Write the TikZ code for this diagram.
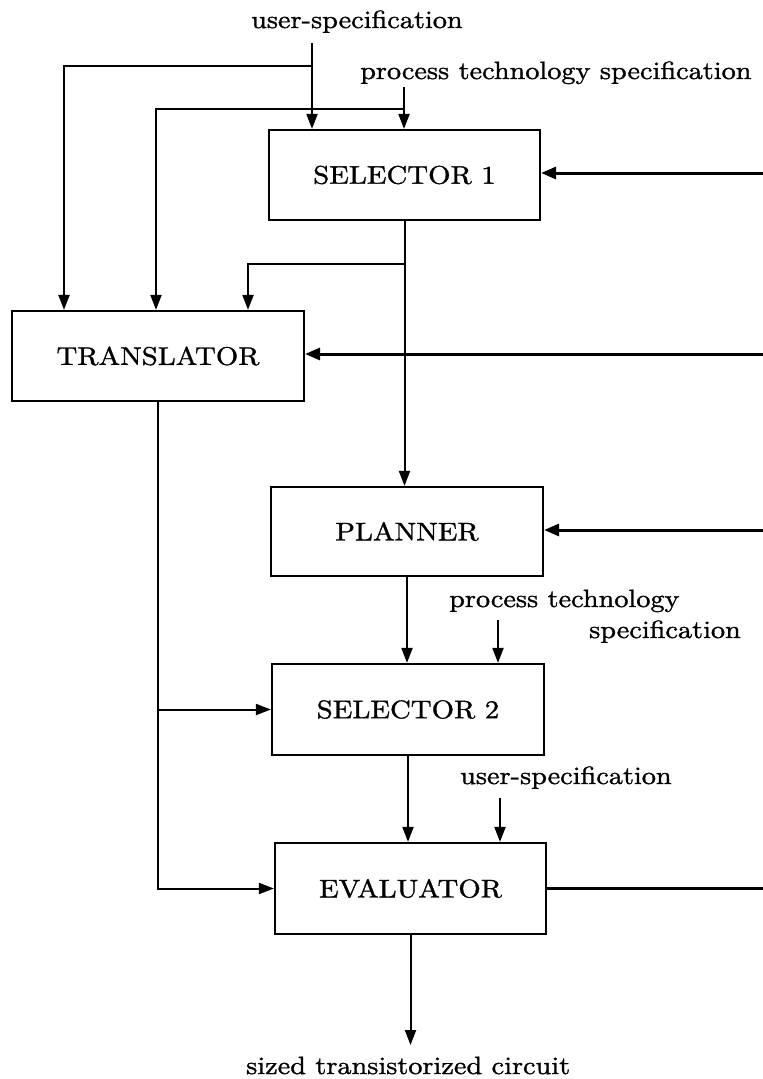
\documentclass[tikz,border=0pt]{standalone}
\usepackage{fontspec}
\setmainfont{lmroman10-regular.otf}[FakeStretch=1.13, FakeBold=1.2]
\usetikzlibrary{arrows.meta}
\tikzset{
  blk/.style={draw, line width=2.2pt, inner sep=0pt, font=\fontsize{25.5}{30}\selectfont},
  lbl/.style={inner sep=0pt, anchor=base west, font=\fontsize{25}{30}\selectfont},
  wire/.style={line width=2pt},
  con/.style={line width=2pt, -{Triangle[length=15pt,width=11pt]}},
  fbcon/.style={line width=3pt, -{Triangle[length=15pt,width=12pt]}},
  fb/.style={line width=3pt}
}
\begin{document}
\begin{tikzpicture}[x=1pt,y=-1pt]
\useasboundingbox[fill=white] (0,0) rectangle (763,1079);

% boxes
\node[blk, minimum width=271pt, minimum height=90pt] (S1) at (404.5,175) {SELECTOR 1};
\node[blk, minimum width=292pt, minimum height=90pt] (TR) at (158,356) {TRANSLATOR};
\node[blk, minimum width=272pt, minimum height=89pt] (PL) at (407,531.5) {PLANNER};
\node[blk, minimum width=272pt, minimum height=91pt] (S2) at (408,709.5) {SELECTOR 2};
\node[blk, minimum width=271pt, minimum height=91pt] (EV) at (410.5,888.5) {EVALUATOR};

% labels
\node[lbl] (Lu1) at (251,28) {user-specification};
\node[lbl] (Lp1) at (360,79) {process technology specification};
\node[lbl] (Lp2a) at (449,607) {process technology};
\node[lbl] (Lp2b) at (589,638) {specification};
\node[lbl] (Lu2) at (460,784) {user-specification};
\node[lbl] (Lout) at (246,1074) {sized transistorized circuit};

% top inputs
\coordinate (u1) at (312,43);
\coordinate (u1b) at (312,66);
\coordinate (j1) at (64,66);
\draw[con] (u1) -- (u1 |- S1.north);
\draw[con] (u1b) -- (j1) -- (j1 |- TR.north);

\coordinate (p1) at (404,87);
\coordinate (p1b) at (404,109);
\coordinate (j2) at (156,109);
\draw[con] (p1) -- (p1 |- S1.north);
\draw[con] (p1b) -- (j2) -- (j2 |- TR.north);

% selector 1 output
\coordinate (b1) at (S1.south |- 0,264);
\coordinate (j3) at (248,264);
\draw[con] (S1.south) -- (S1.south |- PL.north);
\draw[con] (b1) -- (j3) -- (j3 |- TR.north);

% feedback from the right
\coordinate (r1) at (763,173);
\coordinate (r2) at (763,354);
\coordinate (r3) at (763,530);
\coordinate (r4) at (763,888.5);
\draw[fbcon] (r1) -- (r1 -| S1.east);
\draw[fbcon] (r2) -- (r2 -| TR.east);
\draw[fbcon] (r3) -- (r3 -| PL.east);
\draw[fb] (EV.east) -- (r4);

% planner to selector 2
\draw[con] (PL.south) -- (PL.south |- S2.north);
\coordinate (p2) at (498,620);
\draw[con] (p2) -- (p2 |- S2.north);

% translator output
\draw[con] (TR.south) -- (TR.south |- EV.west) -- (EV.west);
\draw[con] (TR.south |- S2.west) -- (S2.west);

% selector 2 to evaluator
\draw[con] (S2.south) -- (S2.south |- EV.north);
\coordinate (u2) at (500,798);
\draw[con] (u2) -- (u2 |- EV.north);

% output
\coordinate (out) at (EV.south |- 0,1045);
\draw[con] (EV.south) -- (out);
\end{tikzpicture}
\end{document}
